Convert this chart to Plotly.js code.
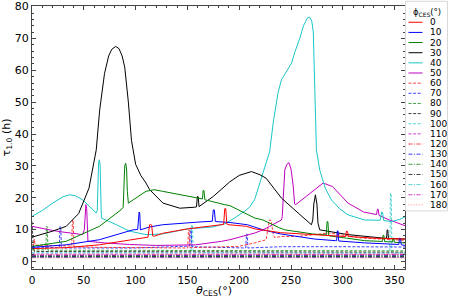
<!DOCTYPE html>
<html><head><meta charset="utf-8">
<script src="https://cdn.plot.ly/plotly-3.0.1.min.js"></script>
<style>html,body{margin:0;padding:0;background:#fff}#chart{width:449px;height:299px}</style>
</head><body><div id="chart"></div>
<script>
// ---- data ----
const phiLabels = ["0","10","20","30","40","50","60","70","80","90","100","110","120","130","140","150","160","170","180"];
const seriesColors = ["#ff0000","#0000ff","#008000","#000000","#1cc6c6","#c000c0"];

const theta0 = [0,33,65,97,112,113.5,114.5,115.5,116.5,118,126,150,183,185,186,187,188,190,207,215,240,270,300,302.5,303.5,304.5,305.5,330,360];
const tau0   = [4.0,4.3,5.2,6.8,7.6,11.5,11.6,11.4,8.0,7.9,8.8,10.2,11.5,11.6,16.5,16.6,11.7,11.5,11.0,10.2,9.0,8.4,7.8,7.8,9.5,9.4,7.8,7.3,7.0];

const theta10 = [0,33,65,97.5,102,102.8,103.4,104,104.6,113.6,126,159,173,174,175,176,177,191,208,223,240,273,293,294,294.7,295.4,296,321,354,354.8,355.6,356.4,360];
const tau10   = [4.4,5.2,6.8,9.9,10.0,15.4,15.5,15.2,9.9,10.8,11.5,12.3,12.5,12.6,16.2,16.1,12.5,12.2,11.5,9.9,8.6,7.0,6.5,6.5,9.6,9.5,6.4,5.8,5.3,7.3,7.2,5.2,5.0];

const theta20 = [0,33,65,86,88,88.6,89.5,90.4,91.3,92,93,110,118,126,159,164.5,165.2,166,166.8,167.5,186,191,215,223,239,244,271,284,284.8,285.6,286.4,287.2,303.5,321,335,338,338.8,339.6,340.4,348,348.6,349.2,349.8,360];
const tau20   = [4.7,6.3,11.0,16.2,17.0,25.0,30.0,30.8,29.0,22.0,18.3,22.0,22.5,22.0,19.9,19.6,22.3,22.2,19.4,19.3,17.8,17.5,13.6,13.0,10.5,9.9,8.6,8.3,12.5,12.4,8.1,8.0,7.3,6.5,6.3,6.2,8.2,8.1,6.2,6.1,7.3,7.2,6.0,5.8];

const theta30 = [0,10,20,33,45,55,62,65.3,70,74,77,80.8,84,87,89.5,93,96,100,105,110,113.6,126.4,142.6,157,158.8,159.6,160.4,161.2,175,191,200,211.8,220,226,240.7,256.8,269.7,271,272,273.5,275,276,276.7,277.7,305,340,342.2,342.8,343.4,344,360];
const tau30   = [7.6,8.5,9.5,11.0,15.0,23.0,35.0,47.5,59.0,64.5,66.6,67.5,66.8,64.5,61.0,50.0,38.0,30.5,27.0,24.6,22.5,18.3,16.7,17.0,17.1,20.4,20.3,17.2,20.4,25.0,27.0,28.2,27.2,26.1,19.9,15.2,11.5,13.0,18.0,20.9,18.0,12.0,11.2,9.9,8.4,7.2,7.2,9.9,9.8,7.2,7.0];

const theta40 = [0,10,20,30,36.4,42,49,56,62,63,63.5,64.3,65,65.8,66.3,67,81.5,94,110,126,150,174.7,186,195,205,210,215,219.8,224,229.4,233,237.5,240.7,245,250.4,254,258.4,262,266,268,270,271.5,272.5,273.5,274.5,277.7,283,289,297,305,321,336,337.5,338.3,339,339.5,347,355,360];
const tau40   = [14.1,16.0,18.3,20.3,20.9,20.6,19.3,17.0,15.2,16.0,25.0,31.0,31.9,30.0,22.0,13.6,11.5,9.5,8.4,8.6,10.2,10.8,11.8,13.5,15.7,17.0,19.5,24.6,29.0,34.5,44.0,53.0,57.0,59.5,62.2,66.0,70.0,74.0,76.5,76.7,75.5,72.0,60.0,45.0,35.0,28.7,23.0,19.3,16.5,14.6,13.0,12.9,15.5,15.4,13.0,12.8,12.5,13.2,14.0];

const theta50 = [0,10,20,30,49,50.5,51.3,52,52.8,53.5,54,70,94,120,158,183,191,215,223,229.4,240.7,241.5,242.5,244,246,248,250,252,253.5,254.5,265,281,290,305,320,331,332.5,333.4,334.2,335,345,360];
const tau50   = [11.0,10.3,9.7,9.2,8.4,10.0,16.0,17.8,16.5,9.0,6.3,5.8,5.3,5.0,5.2,6.3,6.8,8.9,9.9,11.0,13.0,14.0,20.0,28.7,30.5,31.0,29.0,24.0,18.0,17.8,20.5,24.6,23.5,18.3,15.5,14.6,14.7,16.4,16.3,14.4,13.0,11.2];

const theta60 = [0,1.5,2.3,3,20,37,38.3,39,39.8,40.5,42,62,120,149,150.3,151,151.8,152.5,153.5,199,215,226,227.5,229,231,232.5,234,241,255,287,319,360];
const tau60   = [5.2,5.2,7.0,5.1,5.0,4.8,4.8,13.0,12.9,4.7,4.6,4.4,4.2,4.2,4.2,9.9,9.8,4.3,4.3,4.7,5.8,6.8,10.5,13.0,12.8,9.0,7.5,7.8,7.8,8.9,7.3,6.6];

const theta70 = [0,25,26.3,27,27.7,28.4,29,100,134,150,152.2,152.9,153.6,154.3,205,206.3,207,207.7,208.4,240,300,360];
const tau70   = [4.5,4.3,4.3,11.0,10.9,4.3,4.2,4.2,4.7,4.8,4.8,10.5,10.4,4.6,4.2,4.2,8.6,8.5,4.2,4.6,4.6,4.5];

const theta80 = [0,12.6,13.3,14,14.7,15.4,360];
const tau80   = [3.6,3.6,3.6,11.0,10.9,3.5,3.3];

const theta90 = [0,0.6,1.4,2.4,360];
const tau90   = [12.5,9.0,4.0,3.1,2.9];

const theta100 = [0,152.8,153.5,154.2,154.9,155.6,344,345.3,346,346.7,347.4,360];
const tau100   = [2.7,2.7,2.7,11.5,11.4,2.7,2.6,2.6,21.4,21.3,2.6,2.6];

const theta110 = [0,360];  const tau110 = [2.3,2.3];
const theta120 = [0,360];  const tau120 = [2.0,2.1];
const theta130 = [0,360];  const tau130 = [1.8,1.9];
const theta140 = [0,360];  const tau140 = [1.6,1.7];
const theta150 = [0,360];  const tau150 = [1.5,1.5];
const theta160 = [0,360];  const tau160 = [1.4,1.4];
const theta170 = [0,360];  const tau170 = [1.2,1.2];
const theta180 = [0,360];  const tau180 = [1.1,1.1];

const thetaAll = [theta0,theta10,theta20,theta30,theta40,theta50,theta60,theta70,theta80,theta90,theta100,theta110,theta120,theta130,theta140,theta150,theta160,theta170,theta180];
const tauAll   = [tau0,tau10,tau20,tau30,tau40,tau50,tau60,tau70,tau80,tau90,tau100,tau110,tau120,tau130,tau140,tau150,tau160,tau170,tau180];

// ---- styles ----
const DASH = "3px,1.6px", DASHDOT = "4px,1.5px,1px,1.5px", DOT = "1px,1.6px";
function styleFor(i){
  const col = seriesColors[i % 6];
  if (i < 6) return {color: col, dash: "solid", width: 1, opacity: 1};
  if (i < 12) return {color: col, dash: DASH, width: 1, opacity: 0.75};
  if (i < 18) return {color: col, dash: DASHDOT, width: 1, opacity: 0.75};
  return {color: "#ff8080", dash: DOT, width: 1, opacity: 0.9};
}

const traces = [];
for (let i = phiLabels.length - 1; i >= 0; i--) {
  const s = styleFor(i);
  traces.push({x: thetaAll[i], y: tauAll[i], type: "scatter", mode: "lines", name: phiLabels[i],
    line: {color: s.color, dash: s.dash, width: s.width}, opacity: s.opacity, showlegend: false, hoverinfo: "skip"});
}

// plot area in pixels
const L = 32.3, R = 405.5, T = 5.7, B = 269.3, W = 449, H = 299;
const px = v => (v - L) / (R - L);
const py = v => (B - v) / (B - T);

const shapes = [];
const annotations = [];
// x-axis title
annotations.push({xref: "paper", yref: "paper", x: px(214), y: py(299), text: "<i>θ</i><sub>CES</sub>(°)", showarrow: false,
  font: {family: "DejaVu Sans", size: 11, color: "#000"}, xanchor: "center", yanchor: "bottom", borderpad: 0});
// legend frame
shapes.push({type: "rect", xref: "paper", yref: "paper", x0: px(406), x1: px(448), y0: py(211), y1: py(1),
  line: {color: "#d8d8d8", width: 1}, fillcolor: "rgba(255,255,255,0.85)", layer: "above"});
annotations.push({xref: "paper", yref: "paper", x: px(428), y: py(12.3), text: "ϕ<sub>CES</sub>(°)", showarrow: false,
  font: {family: "DejaVu Sans", size: 8.5, color: "#000"}, xanchor: "center", yanchor: "middle"});
for (let i = 0; i < phiLabels.length; i++) {
  const yy = 22 + 10.17 * i;
  const s = styleFor(i);
  shapes.push({type: "line", xref: "paper", yref: "paper", x0: px(409), x1: px(423), y0: py(yy), y1: py(yy),
    line: {color: s.color, dash: s.dash, width: 1}, opacity: s.opacity, layer: "above"});
  annotations.push({xref: "paper", yref: "paper", x: px(428.5), y: py(yy), text: phiLabels[i], showarrow: false,
    font: {family: "DejaVu Sans", size: 9, color: "#000"}, xanchor: "left", yanchor: "middle"});
}

const axisCommon = {showgrid: false, zeroline: false, showline: true, linecolor: "#444", linewidth: 1, mirror: "allticks",
  ticks: "inside", ticklen: 4, tickcolor: "#444", tickfont: {family: "DejaVu Sans", size: 11, color: "#000"}};

const layout = {
  width: W, height: H,
  margin: {l: L, r: W - R, t: T, b: H - B, pad: 0},
  paper_bgcolor: "#fff", plot_bgcolor: "#fff",
  showlegend: false,
  xaxis: Object.assign({}, axisCommon, {range: [0, 360], tickmode: "array", tickvals: [0,50,100,150,200,250,300,350],
    ticklabelstandoff: 1, tickfont: {family: "DejaVu Sans", size: 10.5, color: "#000"},
    minor: {dtick: 10, ticks: "inside", ticklen: 2, tickcolor: "#444"}}),
  yaxis: Object.assign({}, axisCommon, {range: [-2.4, 80.2], tickmode: "array", tickvals: [0,10,20,30,40,50,60,70,80],
    minor: {dtick: 2, ticks: "inside", ticklen: 2, tickcolor: "#444"},
    title: {text: "τ<sub>1.0</sub> (h)", font: {family: "DejaVu Sans", size: 11, color: "#000"}, standoff: 4}}),
  shapes: shapes,
  annotations: annotations
};

Plotly.newPlot("chart", traces, layout, {staticPlot: true, displayModeBar: false});
</script>
</body></html>
